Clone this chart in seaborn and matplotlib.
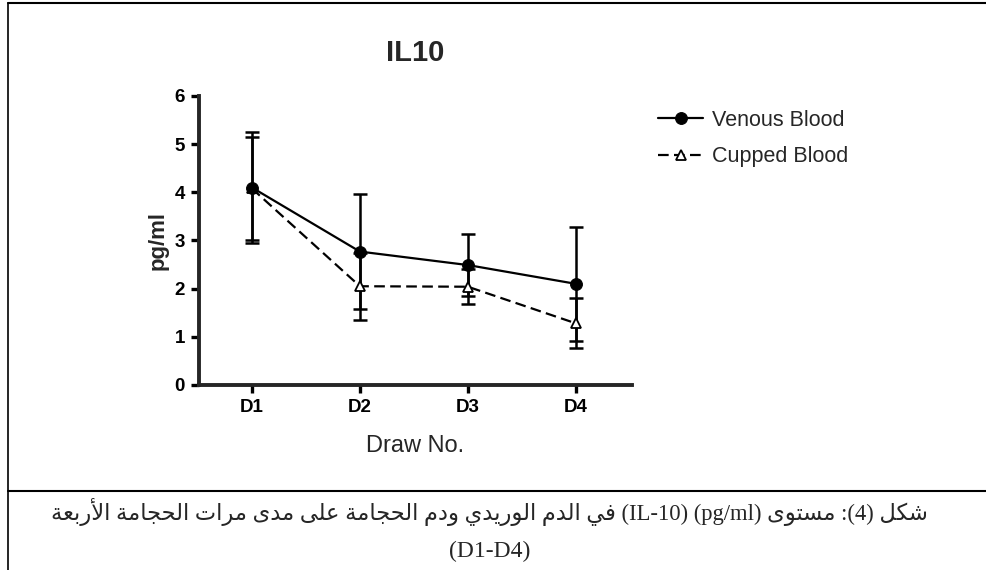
import numpy as np
import pandas as pd
import matplotlib
matplotlib.use("Agg")
from matplotlib import pyplot as plt
from matplotlib.lines import Line2D
import seaborn as sns

# data (mean +/- error, pg/ml)
draws = ["D1", "D2", "D3", "D4"]
venous = [4.10, 2.77, 2.49, 2.10]
venous_err = [1.16, 1.20, 0.64, 1.18]
cupped = [4.08, 2.05, 2.04, 1.28]
cupped_err = [1.07, 0.70, 0.36, 0.52]
yticks = [0, 1, 2, 3, 4, 5, 6]

title = "IL10"
ylabel = "pg/ml"
xlabel = "Draw No."
series_labels = ["Venous Blood", "Cupped Blood"]

# caption tokens in right-to-left reading order
caption_tokens = ["شكل", "(4):", "مستوى", "(pg/ml)", "(IL-10)", "في", "الدم", "الوريدي",
                  "ودم", "الحجامة", "على", "مدى", "مرات", "الحجامة", "الأربعة"]
caption_line2 = "(D1-D4)"

# arabic presentation forms: isolated, final, initial, medial
FORMS = {
    "ا": ("\uFE8D", "\uFE8E", None, None),
    "أ": ("\uFE83", "\uFE84", None, None),
    "ب": ("\uFE8F", "\uFE90", "\uFE91", "\uFE92"),
    "ة": ("\uFE93", "\uFE94", None, None),
    "ت": ("\uFE95", "\uFE96", "\uFE97", "\uFE98"),
    "ج": ("\uFE9D", "\uFE9E", "\uFE9F", "\uFEA0"),
    "ح": ("\uFEA1", "\uFEA2", "\uFEA3", "\uFEA4"),
    "د": ("\uFEA9", "\uFEAA", None, None),
    "ر": ("\uFEAD", "\uFEAE", None, None),
    "س": ("\uFEB1", "\uFEB2", "\uFEB3", "\uFEB4"),
    "ش": ("\uFEB5", "\uFEB6", "\uFEB7", "\uFEB8"),
    "ع": ("\uFEC9", "\uFECA", "\uFECB", "\uFECC"),
    "ف": ("\uFED1", "\uFED2", "\uFED3", "\uFED4"),
    "ك": ("\uFED9", "\uFEDA", "\uFEDB", "\uFEDC"),
    "ل": ("\uFEDD", "\uFEDE", "\uFEDF", "\uFEE0"),
    "م": ("\uFEE1", "\uFEE2", "\uFEE3", "\uFEE4"),
    "و": ("\uFEED", "\uFEEE", None, None),
    "ى": ("\uFEEF", "\uFEF0", None, None),
    "ي": ("\uFEF1", "\uFEF2", "\uFEF3", "\uFEF4"),
}
LAM_ALEF = {"ا": ("\uFEFB", "\uFEFC"), "أ": ("\uFEF7", "\uFEF8")}


def shape_word(word):
    """Very small arabic shaper, returns the word in visual (LTR) order."""
    if not any(c in FORMS for c in word):
        if word.endswith(":"):
            return ":" + word[:-1]
        return word
    letters = []
    i = 0
    while i < len(word):
        if word[i] == "ل" and i + 1 < len(word) and word[i + 1] in LAM_ALEF:
            letters.append(("LA", word[i + 1]))
            i += 2
        else:
            letters.append(("C", word[i]))
            i += 1
    out = []
    for k, (kind, c) in enumerate(letters):
        prev = letters[k - 1] if k > 0 else None
        prev_joins = prev is not None and prev[0] == "C" and FORMS[prev[1]][2] is not None
        if kind == "LA":
            iso, fin = LAM_ALEF[c]
            out.append(fin if prev_joins else iso)
            continue
        iso, fin, ini, med = FORMS[c]
        next_joins = k + 1 < len(letters) and ini is not None
        if prev_joins and next_joins:
            out.append(med)
        elif prev_joins:
            out.append(fin)
        elif next_joins:
            out.append(ini)
        else:
            out.append(iso)
    return "".join(reversed(out))


caption_line1 = " ".join(shape_word(t) for t in reversed(caption_tokens))

sns.set_style("ticks")
plt.rcParams["font.family"] = ["Liberation Sans", "DejaVu Sans"]

fig = plt.figure(figsize=(9.87, 5.70), dpi=100)
ax = fig.add_axes([0.2016, 0.3246, 0.4387, 0.507])

# error bars first so markers sit on top
ax.errorbar(draws, venous, yerr=venous_err, fmt="none", ecolor="black",
            elinewidth=1.8, capsize=4.7, capthick=1.8, zorder=2)
ax.errorbar(draws, cupped, yerr=cupped_err, fmt="none", ecolor="black",
            elinewidth=1.8, capsize=4.7, capthick=1.8, zorder=2)

sns.lineplot(x=draws, y=venous, color="black", lw=1.6, marker="o", markersize=8.5,
             markeredgecolor="black", markerfacecolor="black", errorbar=None,
             label=series_labels[0], ax=ax, zorder=4)
sns.lineplot(x=draws, y=cupped, color="black", lw=1.6, marker="^", markersize=7,
             markeredgecolor="black", markerfacecolor="white", markeredgewidth=1.3,
             linestyle=(0, (4.8, 2.4)), errorbar=None,
             label=series_labels[1], ax=ax, zorder=3)

ax.set_xlim(-0.49, 3.52)
ax.set_ylim(0, 6)
ax.set_yticks(yticks)
sns.despine(ax=ax)
for side in ["left", "bottom"]:
    ax.spines[side].set_linewidth(2.8)
ax.tick_params(axis="both", width=2.4, length=6, labelsize=13.5, pad=4, colors="black")
for lab in ax.get_xticklabels() + ax.get_yticklabels():
    lab.set_fontweight("bold")

ax.set_title(title, fontsize=21, fontweight="bold", pad=25)
ax.set_ylabel(ylabel, fontsize=16, fontweight="bold")
ax.yaxis.set_label_coords(-0.07, 0.5)
ax.set_xlabel(xlabel, fontsize=17)
ax.xaxis.set_label_coords(0.5, -0.173)

leg = ax.legend(loc="upper left", bbox_to_anchor=(0.6667, 0.807),
                bbox_transform=fig.transFigure, frameon=False, fontsize=15.5,
                handlelength=2.1, handletextpad=0.4, labelspacing=0.7,
                borderpad=0, borderaxespad=0)

# frame around the figure and the caption separator
fig.add_artist(Line2D([0.0081, 1.0], [0.9947, 0.9947], color="black", lw=1.5))
fig.add_artist(Line2D([0.0081, 0.0081], [0.0, 0.9947], color="black", lw=1.2))
fig.add_artist(Line2D([0.0081, 1.0], [0.1386, 0.1386], color="black", lw=1.5))

fig.text(0.496, 0.1018, caption_line1, ha="center", va="center", fontsize=16.3,
         family=["Liberation Serif", "DejaVu Sans"])
fig.text(0.496, 0.0333, caption_line2, ha="center", va="center", fontsize=17,
         family=["Liberation Serif", "DejaVu Sans"])

fig.savefig("out.png", dpi=100)
